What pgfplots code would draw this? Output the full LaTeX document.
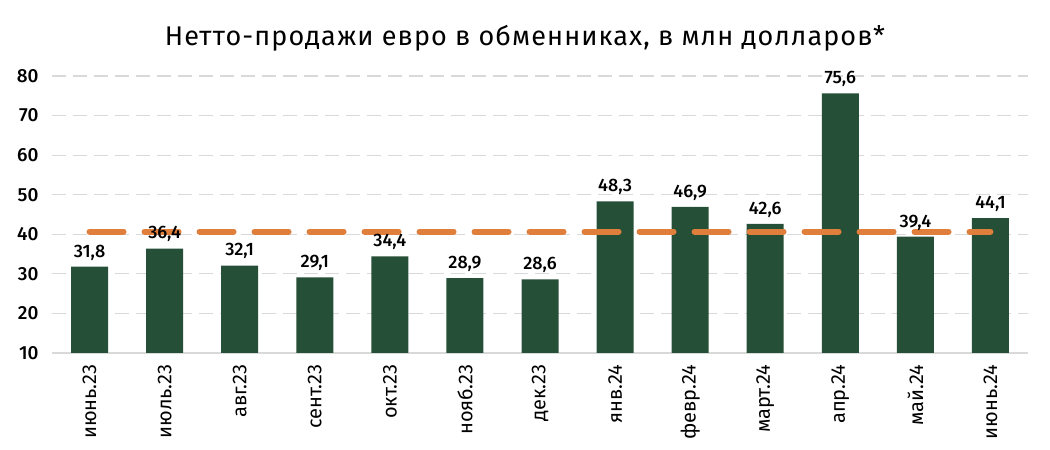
\documentclass[border=0pt]{standalone}
\usepackage{fontspec}
\setmainfont{Fira Sans}
\newfontfamily\medfont{Fira Sans Medium}
\newfontfamily\titlefont{Fira Sans}[LetterSpace=4]
\usepackage{pgfplots}
\pgfplotsset{compat=1.18}
\usetikzlibrary{calc}
\definecolor{bargreen}{HTML}{264F38}
\definecolor{avgorange}{HTML}{E07E3C}
\definecolor{gridgray}{HTML}{D9D9D9}

\begin{document}
\begin{tikzpicture}
\begin{axis}[
    scale only axis,
    width=976pt, height=277pt,
    xmin=-0.5, xmax=12.5,
    ymin=10, ymax=80,
    ytick={10,20,...,80},
    xtick={0,...,12},
    xticklabels={июнь.23, июль.23, авг.23, сент.23, окт.23, нояб.23, дек.23, янв.24, февр.24, март.24, апр.24, май.24, июнь.24},
    x tick label style={rotate=90, anchor=east, font=\fontsize{20}{20}\selectfont},
    y tick label style={font=\medfont\fontsize{19}{19}\selectfont},
    /pgf/number format/assume math mode=true,
    axis x line*=bottom,
    axis y line*=left,
    y axis line style={draw=none},
    x axis line style={draw=gridgray, line width=1.2pt},
    ymajorgrids,
    grid style={draw=gridgray, line width=1.2pt, dash pattern=on 14pt off 7pt},
    major tick length=0pt,
    xticklabel shift=8pt,
    yticklabel shift=10pt,
    clip=false,
]
\addplot[ybar, bar width=37pt, fill=bargreen, draw=none]
  coordinates {(0,31.8) (1,36.4) (2,32.1) (3,29.1) (4,34.4) (5,28.9) (6,28.6)
               (7,48.3) (8,46.9) (9,42.6) (10,75.6) (11,39.4) (12,44.1)};
\addplot[avgorange, line width=6pt, line cap=round, dash pattern=on 34pt off 21pt, mark=none]
  coordinates {(0,40.7) (12,40.7)};
\addplot[draw=none, mark=none,
    nodes near coords,
    every node near coord/.append style={anchor=south, yshift=3pt, text=black,
        font=\medfont\fontsize{18}{18}\selectfont},
    /pgf/number format/.cd, fixed, fixed zerofill, precision=1, use comma]
  coordinates {(0,31.8) (1,36.4) (2,32.1) (3,29.1) (4,34.4) (5,28.9) (6,28.6)
               (7,48.3) (8,46.9) (9,42.6) (10,75.6) (11,39.4) (12,44.1)};
\end{axis}
\node[font=\titlefont\fontsize{27}{27}\selectfont] at ($(current axis.north west)+(473pt,38pt)$)
  {Нетто-продажи евро в обменниках, в млн долларов*};
\path[use as bounding box] ($(current axis.south west)+(-52pt,-97pt)$) rectangle ($(current axis.north east)+(22pt,76pt)$);
\end{tikzpicture}
\end{document}
